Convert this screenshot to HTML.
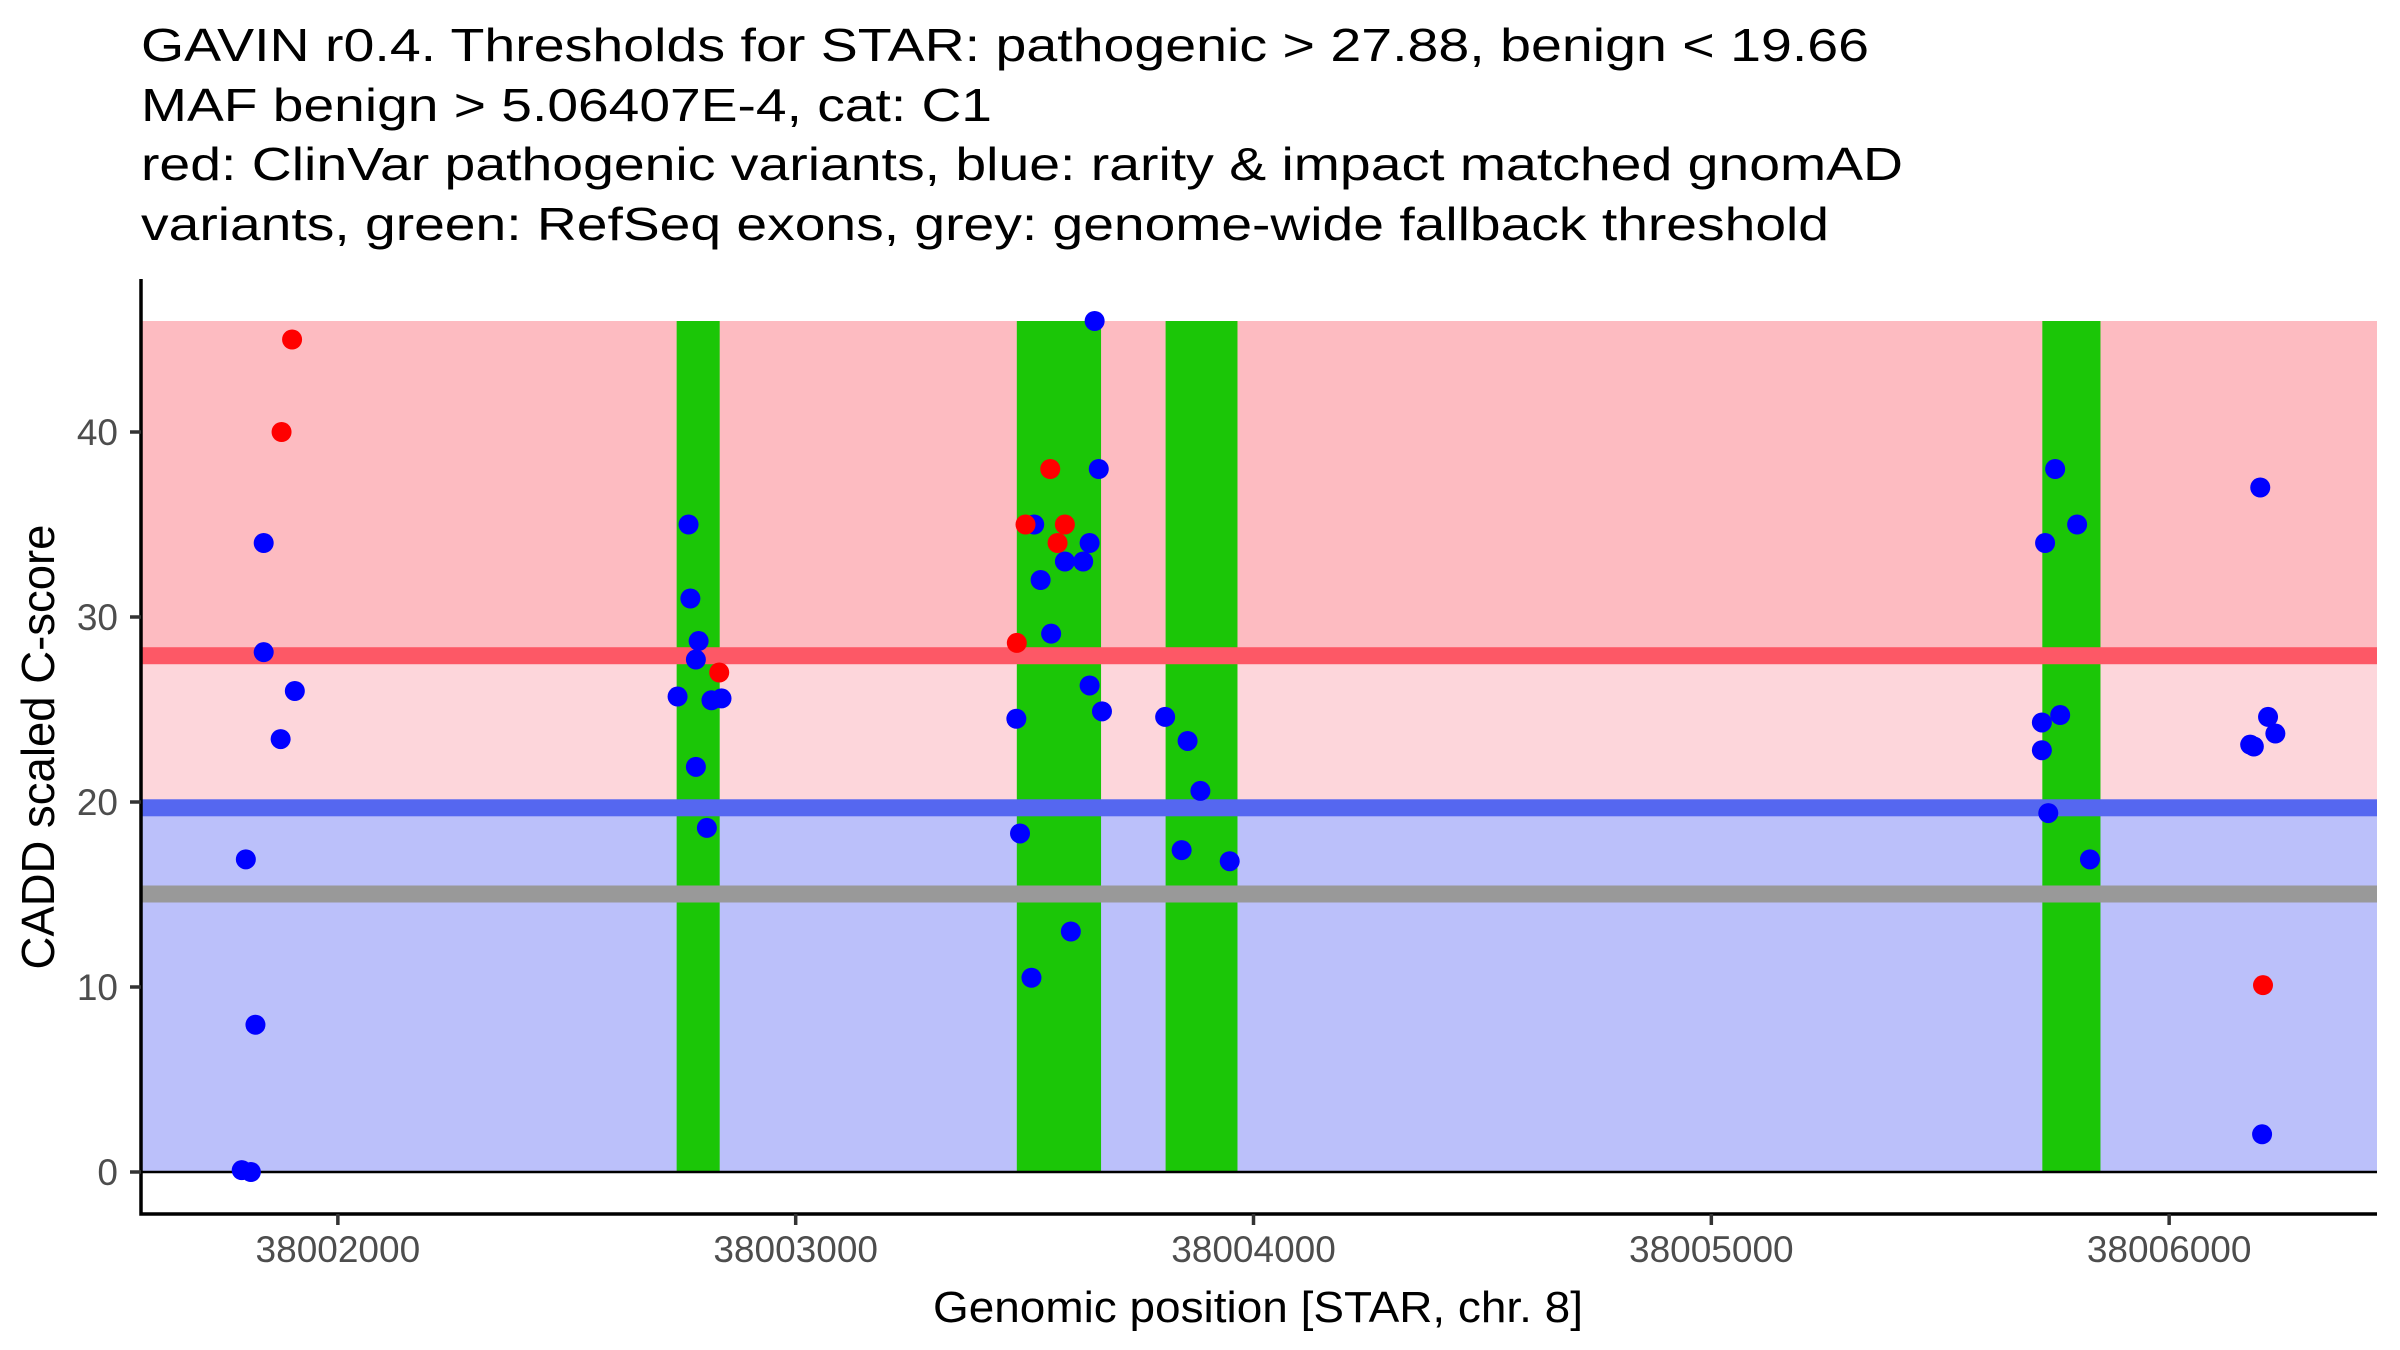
<!DOCTYPE html>
<html><head><meta charset="utf-8"><style>
html,body{margin:0;padding:0;background:#fff;}
svg{display:block;font-family:"Liberation Sans",Arial,sans-serif;}
</style></head><body>
<svg id="chart" width="2400" height="1350" viewBox="0 0 2400 1350" xmlns="http://www.w3.org/2000/svg">
<g font-size="46" fill="#000">
<text x="141" y="61" textLength="1728" lengthAdjust="spacingAndGlyphs">GAVIN r0.4. Thresholds for STAR: pathogenic &gt; 27.88, benign &lt; 19.66</text>
<text x="141" y="121" textLength="851" lengthAdjust="spacingAndGlyphs">MAF benign &gt; 5.06407E-4, cat: C1</text>
<text x="141" y="180" textLength="1762" lengthAdjust="spacingAndGlyphs">red: ClinVar pathogenic variants, blue: rarity &amp; impact matched gnomAD</text>
<text x="141" y="240" textLength="1688" lengthAdjust="spacingAndGlyphs">variants, green: RefSeq exons, grey: genome-wide fallback threshold</text>
</g>
<g id="bands"></g>
<g id="exons"></g>
<g id="lines"></g>
<g id="points"></g>
<g id="axes"></g>
<text x="1258" y="1322" font-size="44" text-anchor="middle" textLength="650" lengthAdjust="spacingAndGlyphs">Genomic position [STAR, chr. 8]</text>
<text transform="translate(54,747) rotate(-90)" font-size="46" text-anchor="middle" textLength="445" lengthAdjust="spacingAndGlyphs">CADD scaled C-score</text>
</svg>
<script>
const pathogenicThreshold = 27.88;
const benignThreshold = 19.66;
const fallbackThreshold = 15.0;
const maxScore = 46;
const exonStarts = [38002740, 38003483, 38003808, 38005723];
const exonEnds = [38002834, 38003667, 38003965, 38005850];
const bluePos = [38001838,38001838,38001906,38001875,38001799,38001820,38001790,38001810,
38002766,38002770,38002788,38002782,38002742,38002816,38002838,38002782,38002806,
38003653,38003662,38003521,38003642,38003588,38003628,38003535,38003558,38003642,38003669,38003482,38003807,38003856,38003884,38003490,38003843,38003948,38003601,38003515,
38005751,38005799,38005729,38006199,38005762,38005722,38005722,38005736,38005827,38006216,38006232,38006177,38006185,38006203];
const blueScore = [34.0,28.1,26.0,23.4,16.9,7.96,0.1,0.0,
35.0,31.0,28.7,27.7,25.7,25.5,25.6,21.9,18.6,
46.0,38.0,35.0,34.0,33.0,33.0,32.0,29.1,26.3,24.9,24.5,24.6,23.3,20.6,18.3,17.4,16.8,13.0,10.5,
38.0,35.0,34.0,37.0,24.7,24.3,22.8,19.4,16.9,24.6,23.7,23.1,23.0,2.04];
const redPos = [38001900,38001877,38002833,38003556,38003502,38003588,38003572,38003483,38006205];
const redScore = [45.0,40.0,27.0,38.0,35.0,35.0,34.0,28.6,10.1];
const xTicks = [38002000,38003000,38004000,38005000,38006000];
const yTicks = [0,10,20,30,40];

const NS='http://www.w3.org/2000/svg';
const PL=141, PR=2377, PT=279, PB=1214;
const X0=38001570, X1=38006454;
function sx(v){return PL+(v-X0)/(X1-X0)*(PR-PL);}
function sy(v){return 1172-v*18.5;}
function mk(tag,attrs,parent){const e=document.createElementNS(NS,tag);for(const k in attrs)e.setAttribute(k,attrs[k]);parent.appendChild(e);return e;}
const bands=document.getElementById('bands');
let e;
e=mk('rect',{x:PL,y:sy(maxScore),width:PR-PL,height:sy(pathogenicThreshold)-sy(maxScore),fill:'#fdbbc1'},bands);


e=mk('rect',{x:PL,y:sy(pathogenicThreshold),width:PR-PL,height:sy(benignThreshold)-sy(pathogenicThreshold),fill:'#fdd6db'},bands);


e=mk('rect',{x:PL,y:sy(benignThreshold),width:PR-PL,height:sy(0)-sy(benignThreshold),fill:'#bbc0fa'},bands);


const ex=document.getElementById('exons');
exonStarts.forEach((s,i)=>{
 const r=mk('rect',{x:sx(s),y:sy(maxScore),width:sx(exonEnds[i])-sx(s),height:sy(0)-sy(maxScore),fill:'#1bc607'},ex);
 
 
});
const ln=document.getElementById('lines');
[[pathogenicThreshold,'#fd5866','pathogenic-threshold-line'],[benignThreshold,'#5567f0','benign-threshold-line'],[fallbackThreshold,'#999999','fallback-threshold-line']].forEach(d=>{
 const r=mk('rect',{x:PL,y:sy(d[0])-9,width:PR-PL,height:17,fill:d[1]},ln);
 
 
});
e=mk('line',{x1:PL,x2:PR,y1:sy(0),y2:sy(0),stroke:'#000','stroke-width':2.5},ln);


const pts=document.getElementById('points');
bluePos.forEach((p,i)=>{
 const c=mk('circle',{cx:sx(p),cy:sy(blueScore[i]),r:10,fill:'#0000ff'},pts);
 
 
});
redPos.forEach((p,i)=>{
 const c=mk('circle',{cx:sx(p),cy:sy(redScore[i]),r:10,fill:'#ff0000'},pts);
 
 
});
const ax=document.getElementById('axes');
e=mk('path',{d:`M${PL} ${PT} V${PB} H${PR}`,stroke:'#000','stroke-width':3.5,fill:'none'},ax);


xTicks.forEach(t=>{
 const l=mk('line',{x1:sx(t),x2:sx(t),y1:PB,y2:PB+11,stroke:'#333','stroke-width':3.5},ax);
 
 
 const tx=mk('text',{x:sx(t),y:1262,'font-size':37,'text-anchor':'middle',fill:'#4d4d4d'},ax);
 tx.textContent=t;
 
 
});
yTicks.forEach(t=>{
 const l=mk('line',{x1:PL-11,x2:PL,y1:sy(t),y2:sy(t),stroke:'#333','stroke-width':3.5},ax);
 
 
 const tx=mk('text',{x:118,y:sy(t)+13,'font-size':37,'text-anchor':'end',fill:'#4d4d4d'},ax);
 tx.textContent=t;
 
 
});
</script>
</body></html>
